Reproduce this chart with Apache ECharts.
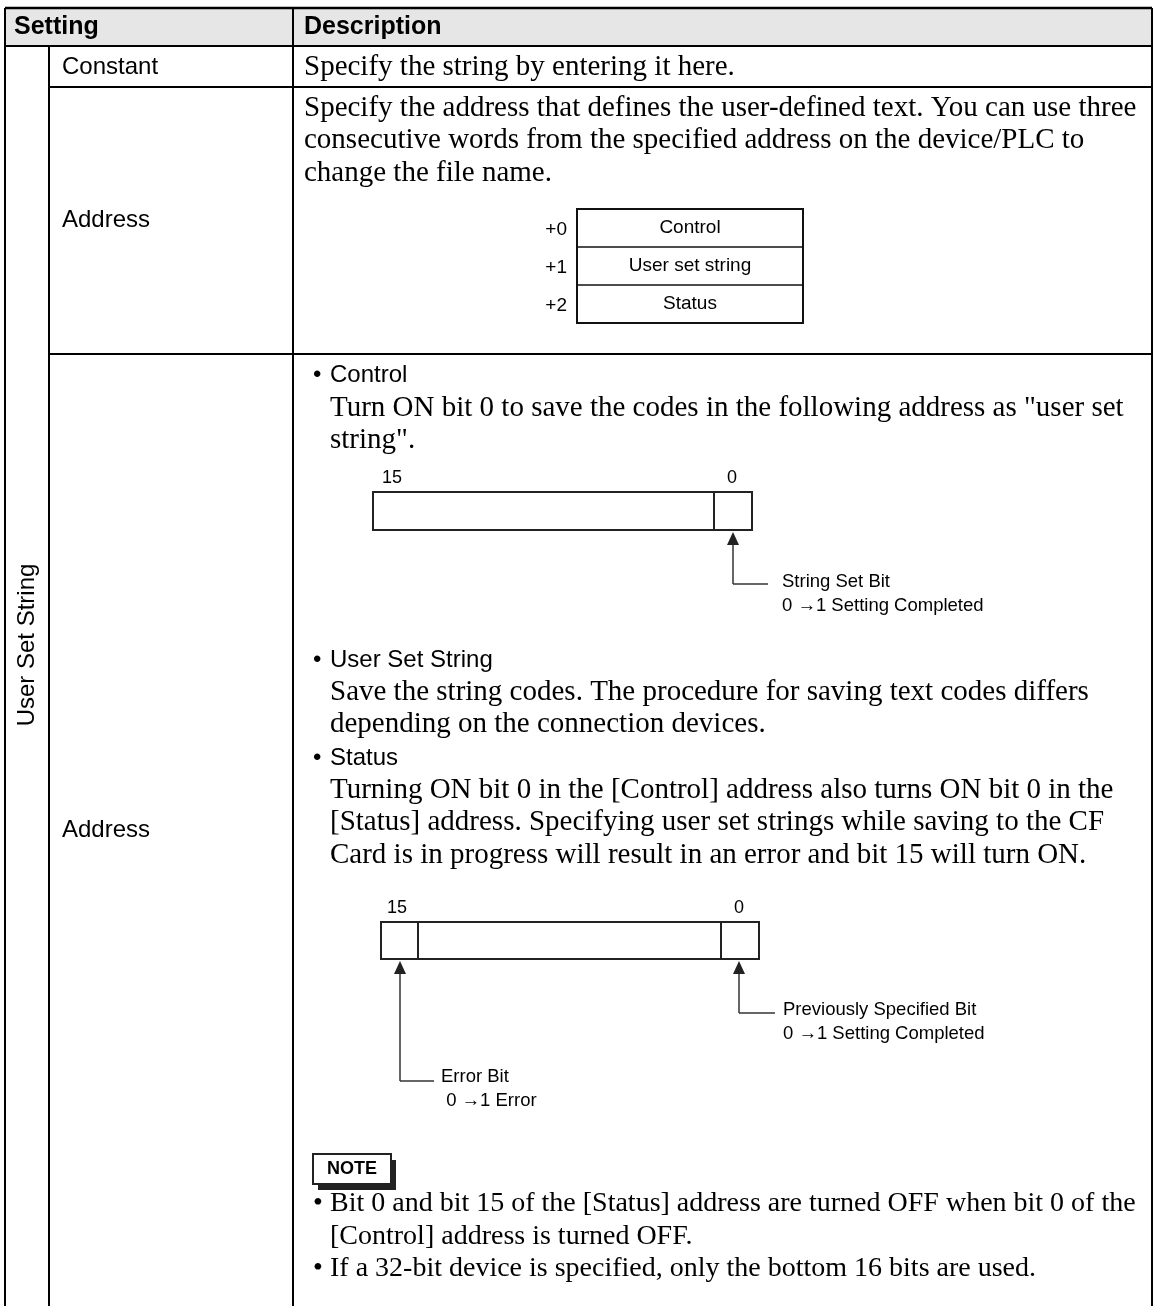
<!DOCTYPE html>
<html><head><meta charset="utf-8">
<script src="https://cdn.jsdelivr.net/npm/echarts@6/dist/echarts.min.js"></script>
<style>html,body{margin:0;padding:0;background:#fff}#c{width:1172px;height:1306px}</style>
</head><body><div id="c"></div>
<script>
const headers = ['Setting', 'Description'];
const groupLabel = 'User Set String';
const settingLabels = ['Constant', 'Address', 'Address'];
const constantLines = ['Specify the string by entering it here.'];
const addressLines = [
  'Specify the address that defines the user-defined text. You can use three',
  'consecutive words from the specified address on the device/PLC to',
  'change the file name.'
];
const wordOffsets = ['+0', '+1', '+2'];
const wordNames = ['Control', 'User set string', 'Status'];
const controlHead = 'Control';
const controlLines = [
  'Turn ON bit 0 to save the codes in the following address as "user set',
  'string".'
];
const bitEnds = ['15', '0'];
const stringSetLabel = ['String Set Bit', '0 \u21921 Setting Completed'];
const userStringHead = 'User Set String';
const userStringLines = [
  'Save the string codes. The procedure for saving text codes differs',
  'depending on the connection devices.'
];
const statusHead = 'Status';
const statusLines = [
  'Turning ON bit 0 in the [Control] address also turns ON bit 0 in the',
  '[Status] address. Specifying user set strings while saving to the CF',
  'Card is in progress will result in an error and bit 15 will turn ON.'
];
const prevLabel = ['Previously Specified Bit', '0 \u21921 Setting Completed'];
const errorLabel = ['Error Bit', ' 0 \u21921 Error'];
const noteTitle = 'NOTE';
const noteLines = [
  ['\u2022', 'Bit 0 and bit 15 of the [Status] address are turned OFF when bit 0 of the'],
  ['', '[Control] address is turned OFF.'],
  ['\u2022', 'If a 32-bit device is specified, only the bottom 16 bits are used.']
];

const SANS = '"Liberation Sans", Arial, sans-serif';
const SERIF = '"Liberation Serif", "Times New Roman", serif';
const g = [];
function T(x, y, s, o) {
  o = o || {};
  g.push({type: 'text', x: x, y: y, rotation: o.rot || 0, z: 10,
    style: {text: s, fill: '#000', font: (o.bold ? 'bold ' : '') + (o.size || 25) + 'px ' + (o.font || SANS),
      textAlign: o.align || 'left', textVerticalAlign: 'middle'}});
}
function L(x1, y1, x2, y2, w, c) {
  g.push({type: 'line', z: 5, shape: {x1: x1, y1: y1, x2: x2, y2: y2}, style: {stroke: c || '#000', lineWidth: w || 2}});
}
function R(x, y, w, h, fill, stroke, lw) {
  g.push({type: 'rect', z: 4, shape: {x: x, y: y, width: w, height: h}, style: {fill: fill || 'none', stroke: stroke || null, lineWidth: lw || 0}});
}
function arrowUp(x, tipY) {
  g.push({type: 'polygon', z: 6, shape: {points: [[x, tipY], [x - 6, tipY + 13], [x + 6, tipY + 13]]}, style: {fill: '#222'}});
}

// table geometry
const X0 = 5, X1 = 49, X2 = 293, X3 = 1152;
const Y0 = 8, Y1 = 46, Y2 = 87, Y3 = 354, Y4 = 1310;
R(X0, Y0, X3 - X0, Y1 - Y0, '#e6e6e6');
L(X0, Y0, X3, Y0, 2.5); L(X0, Y1, X3, Y1, 2);
L(X1, Y2, X3, Y2, 2); L(X1, Y3, X3, Y3, 2);
L(X0, Y0, X0, Y4, 2); L(X3, Y0, X3, Y4, 2);
L(X2, Y0, X2, Y4, 2); L(X1, Y1, X1, Y4, 2);

T(14, 27, headers[0], {bold: true, size: 25});
T(304, 27, headers[1], {bold: true, size: 25});
T(27, 645, groupLabel, {rot: Math.PI / 2, align: 'center', size: 24});
T(62, 67, settingLabels[0], {size: 24});
T(62, 220, settingLabels[1], {size: 24});
T(62, 830, settingLabels[2], {size: 24});

const SZ = 29, LH = 32.5;
constantLines.forEach((s, i) => T(304, 67 + i * LH, s, {font: SERIF, size: SZ}));
addressLines.forEach((s, i) => T(304, 108 + i * LH, s, {font: SERIF, size: SZ}));

// word map diagram
const bx = 577, bw = 226, by = 209, bh = 38;
R(bx, by, bw, bh * 3, null, '#111', 2);
L(bx, by + bh, bx + bw, by + bh, 1.5, '#111');
L(bx, by + 2 * bh, bx + bw, by + 2 * bh, 1.5, '#111');
wordNames.forEach((s, i) => {
  T(bx + bw / 2, by + bh * i + bh / 2, s, {align: 'center', size: 19});
  T(bx - 10, by + bh * i + bh / 2 + 2, wordOffsets[i], {align: 'right', size: 19});
});

// second Address row
T(313, 375, '\u2022', {size: 24});
T(330, 375, controlHead, {size: 24});
controlLines.forEach((s, i) => T(330, 408 + i * LH, s, {font: SERIF, size: SZ}));

// bit diagram 1
T(392, 478, bitEnds[0], {align: 'center', size: 18});
T(732, 478, bitEnds[1], {align: 'center', size: 18});
R(373, 492, 379, 38, null, '#222', 2);
L(714, 492, 714, 530, 2, '#222');
arrowUp(733, 532);
L(733, 540, 733, 584, 1.5, '#333'); L(733, 584, 768, 584, 1.5, '#333');
T(782, 582, stringSetLabel[0], {size: 18.5});
T(782, 606, stringSetLabel[1], {size: 18.5});

T(313, 660, '\u2022', {size: 24});
T(330, 660, userStringHead, {size: 24});
userStringLines.forEach((s, i) => T(330, 692 + i * LH, s, {font: SERIF, size: SZ}));
T(313, 758, '\u2022', {size: 24});
T(330, 758, statusHead, {size: 24});
statusLines.forEach((s, i) => T(330, 790 + i * LH, s, {font: SERIF, size: SZ}));

// bit diagram 2
T(397, 908, bitEnds[0], {align: 'center', size: 18});
T(739, 908, bitEnds[1], {align: 'center', size: 18});
R(381, 922, 378, 37, null, '#222', 2);
L(418, 922, 418, 959, 2, '#222');
L(721, 922, 721, 959, 2, '#222');
arrowUp(400, 961);
L(400, 970, 400, 1081, 1.5, '#333'); L(400, 1081, 434, 1081, 1.5, '#333');
arrowUp(739, 961);
L(739, 970, 739, 1013, 1.5, '#333'); L(739, 1013, 775, 1013, 1.5, '#333');
T(783, 1010, prevLabel[0], {size: 18.5});
T(783, 1034, prevLabel[1], {size: 18.5});
T(441, 1077, errorLabel[0], {size: 18.5});
T(441, 1101, errorLabel[1], {size: 18.5});

// NOTE box
R(318, 1160, 78, 30, '#222');
R(313, 1154, 78, 30, '#fff', '#222', 2);
T(352, 1169, noteTitle, {bold: true, size: 18, align: 'center'});
const NSZ = 28;
noteLines.forEach((p, i) => {
  if (p[0]) T(313, 1204 + i * LH, p[0], {font: SERIF, size: NSZ});
  T(330, 1204 + i * LH, p[1], {font: SERIF, size: NSZ});
});

const chart = echarts.init(document.getElementById('c'), null, {renderer: 'canvas'});
chart.setOption({backgroundColor: '#fff', animation: false, graphic: {elements: g}});
</script></body></html>
